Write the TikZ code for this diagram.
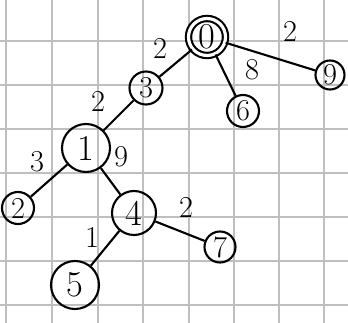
\documentclass[tikz,border=0pt]{standalone}
\usepackage{amsmath,amssymb}

\begin{document}
\begin{tikzpicture}[
    x=0.02cm, y=-0.02cm,
    vert/.style     = {circle, draw, line width=1.2pt, inner sep=0pt, font=\LARGE},
    bigv/.style     = {vert, font=\huge},
    rootv/.style    = {vert, double, double distance=1.8pt, font=\huge},
    wt/.style       = {inner sep=0pt, font=\LARGE},
    gridline/.style = {gray!50, line width=0.7pt},
    every path/.style = {line width=1.2pt}
    ]
      % paper ----------------------------------------------------
      \useasboundingbox (0,0) rectangle (348,323);
      \foreach \gx in {6,52,98,143,189,234,279,324}
        \draw[gridline] (\gx,0) -- (\gx,323);
      \foreach \gy in {41,85,129,173,217,261,305}
        \draw[gridline] (0,\gy) -- (348,\gy);

      % vertices -------------------------------------------------
      \node[rootv, minimum size=0.74cm] (v0) at (207,37)  {0};
      \node[vert, minimum size=0.66cm] (v3) at (146,88)  {3};
      \node[vert, minimum size=0.64cm] (v6) at (243,111) {6};
      \node[vert, minimum size=0.58cm] (v9) at (330,75)  {9};
      \node[bigv, minimum size=0.96cm] (v1) at (86,148)  {1};
      \node[vert, minimum size=0.64cm] (v2) at (18,208)  {2};
      \node[bigv, minimum size=0.88cm] (v4) at (134,213) {4};
      \node[vert, minimum size=0.62cm] (v7) at (220,247) {7};
      \node[bigv, minimum size=0.96cm] (v5) at (75,285)  {5};

      % edges ----------------------------------------------------
      \draw (v0) -- (v3)
            (v0) -- (v6)
            (v0) -- (v9)
            (v3) -- (v1)
            (v1) -- (v2)
            (v1) -- (v4)
            (v4) -- (v7)
            (v4) -- (v5);

      % weights --------------------------------------------------
      \node[wt] (w03) at (160,48)  {2};
      \node[wt] (w06) at (252,70)  {8};
      \node[wt] (w09) at (290,31)  {2};
      \node[wt] (w31) at (98,101)  {2};
      \node[wt] (w12) at (37,162)  {3};
      \node[wt] (w14) at (121,157) {9};
      \node[wt] (w47) at (186,207) {2};
      \node[wt] (w45) at (92,237)  {1};
\end{tikzpicture}
\end{document}
